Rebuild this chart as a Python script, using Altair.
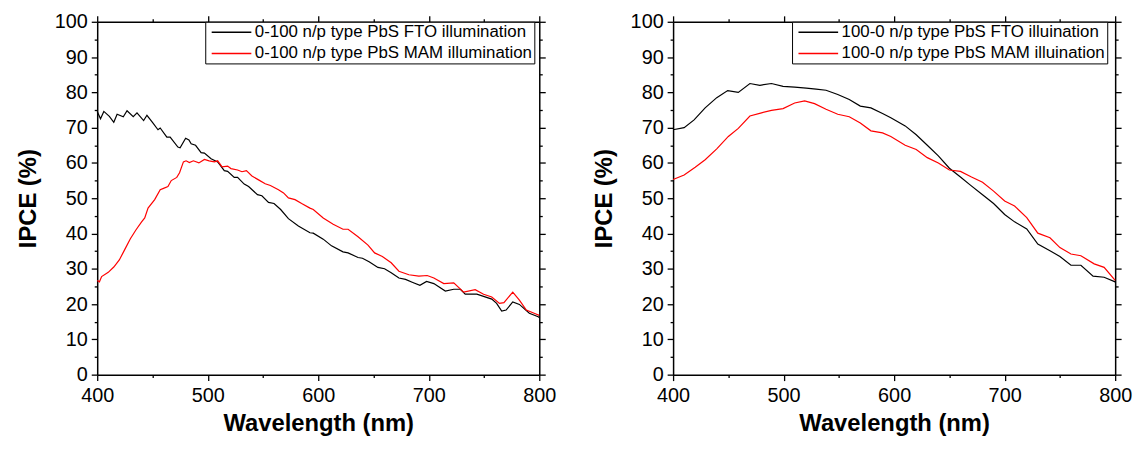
import altair as alt
import pandas as pd

FONT = "Liberation Sans"

# ---------------- data ----------------
# Left panel: 0-100
left_labels = ["0-100 n/p type PbS FTO illumination", "0-100 n/p type PbS MAM illumination"]
left_fto_wl = [400, 403, 406, 411, 415, 418, 423.6, 427, 432.6, 436, 442, 445, 450, 455, 457, 463, 466,
               473, 475, 480, 483, 485, 489, 494, 497, 503, 509, 515, 518, 524, 527, 533, 537, 545, 549,
               555, 560, 566, 573, 582, 592.5, 595.5, 604.5, 612, 622.4, 627, 636, 640, 646, 654, 660,
               666, 673, 679, 685, 692, 698, 704.6, 715, 722.6, 728.6, 733, 743.5, 757, 761.4, 766, 770,
               776, 782, 791, 799, 800]
left_fto_ipce = [74.6, 72.5, 74.6, 73.2, 71.5, 73.8, 73.1, 74.8, 73.1, 74.2, 72.0, 73.5, 71.5, 69.4, 69.9,
                 67.3, 67.3, 64.5, 64.3, 67.0, 66.5, 65.4, 65.0, 62.9, 62.8, 61.2, 60.3, 57.8, 57.6, 55.9,
                 55.9, 54.0, 53.3, 51.0, 50.7, 48.8, 48.5, 46.8, 44.2, 42.1, 40.2, 40.1, 38.4, 36.5, 34.8,
                 34.5, 33.2, 33.0, 32.0, 30.4, 30.0, 28.9, 27.4, 27.0, 26.2, 25.3, 26.4, 25.8, 23.7, 24.2,
                 24.2, 22.8, 22.8, 21.4, 20.2, 18.0, 18.3, 20.6, 19.9, 17.4, 16.4, 16.2]
left_mam_wl = [400, 402, 404, 410, 415, 420, 425, 430, 435, 440, 443, 446, 452, 457, 460, 464, 467, 472,
               474.5, 478, 480.4, 483.4, 487, 492, 497, 501.3, 506, 509, 513, 518, 521, 527, 531, 535,
               540, 546, 552, 556.7, 564, 568.6, 573, 579, 585, 592.5, 595.5, 604.5, 613.5, 622.4, 627,
               636, 645, 651, 658, 666, 673, 682, 691, 698.6, 704.6, 713.6, 722.6, 731.6, 742, 749.6,
               757, 764, 768, 776, 782, 788.3, 797, 800]
left_mam_ipce = [26.7, 26.3, 27.8, 29.0, 30.5, 32.5, 35.5, 38.5, 41.0, 43.2, 44.4, 47.2, 49.6, 52.4, 52.8,
                 53.3, 55.0, 55.9, 57.2, 60.3, 60.6, 60.1, 60.6, 60.0, 61.0, 60.6, 60.3, 60.6, 58.9, 59.1,
                 58.4, 58.0, 57.5, 57.8, 56.3, 55.2, 54.1, 53.6, 52.4, 51.5, 50.1, 49.6, 48.5, 47.2, 46.8,
                 44.4, 42.6, 41.2, 41.2, 39.1, 36.7, 34.5, 33.5, 31.7, 29.3, 28.3, 27.9, 28.1, 27.4, 25.8,
                 26.0, 23.4, 24.1, 22.8, 22.0, 20.2, 20.4, 23.4, 21.1, 18.3, 17.2, 16.8]

# Right panel: 100-0
right_labels = ["100-0 n/p type PbS FTO illuination", "100-0 n/p type PbS MAM illuination"]
right_fto_wl = [400, 410, 419, 429, 439.5, 449.4, 459, 469.5, 478.5, 489, 499.5, 510, 520.5, 529.4,
                538.4, 549, 559.4, 569.4, 579, 589.5, 597, 610, 620, 630, 640, 650, 660, 669, 680, 690,
                700, 709, 720, 730, 741, 750, 760, 769, 780, 790, 800]
right_fto_ipce = [69.4, 70.0, 72.2, 75.6, 78.5, 80.5, 80.0, 82.5, 82.0, 82.5, 81.7, 81.5, 81.2, 80.9,
                  80.6, 79.4, 78.0, 76.1, 75.6, 74.0, 72.8, 70.5, 68.0, 65.0, 62.0, 58.5, 56.0, 53.7,
                  51.0, 48.5, 45.4, 43.3, 41.3, 37.0, 35.1, 33.5, 31.0, 31.0, 27.9, 27.6, 26.3]
right_mam_wl = [400, 410, 420, 429, 439.5, 450, 459, 469.5, 480, 489, 499.5, 510, 519, 528, 538.4, 549,
                559.4, 569.4, 579, 589.5, 597, 610, 620, 630, 640, 650, 660, 670, 680, 690, 700, 709,
                720, 730, 741, 750, 760, 769, 781, 790, 800]
right_mam_ipce = [55.3, 56.6, 58.8, 60.9, 64.0, 67.5, 69.8, 73.3, 74.2, 74.9, 75.4, 77.0, 77.6, 76.8,
                  75.2, 73.8, 73.1, 71.3, 69.1, 68.5, 67.5, 65.0, 63.8, 61.5, 60.0, 58.0, 57.6, 56.0,
                  54.5, 52.0, 49.2, 47.8, 44.5, 40.1, 38.8, 36.0, 34.2, 33.7, 31.4, 30.4, 26.7]

x_tick_values = list(range(400, 801, 50))
y_tick_values = list(range(0, 101, 5))
series_colors = ["#000000", "#ff0000"]


def make_df(wl1, v1, wl2, v2, labels):
    rows = []
    for w, v in zip(wl1, v1):
        rows.append({"wl": w, "ipce": v, "series": labels[0]})
    for w, v in zip(wl2, v2):
        rows.append({"wl": w, "ipce": v, "series": labels[1]})
    return pd.DataFrame(rows)


MAJ_X = "datum.value % 100 === 0"
MAJ_Y = "datum.value % 10 === 0"


def axis(orient, major_test, show_labels, title, label_pad, title_pad):
    kw = dict(
        orient=orient,
        values=x_tick_values if orient in ("top", "bottom") else y_tick_values,
        grid=False,
        domain=True,
        domainColor="black",
        domainWidth=1.5,
        ticks=True,
        tickColor="black",
        tickWidth=1.3,
        tickSize={"condition": {"test": major_test, "value": 6}, "value": 3},
        labels=show_labels,
        labelOverlap=False,
        labelFlush=False,
        labelFont=FONT,
        labelFontSize=20,
        labelColor="black",
        labelPadding=label_pad,
        titleFont=FONT,
        titleFontSize=24,
        titleFontWeight="bold",
        titleColor="black",
        titlePadding=title_pad,
        title=title,
    )
    if show_labels:
        kw["labelExpr"] = f"{major_test} ? datum.label : ''"
    return alt.Axis(**kw)


def panel(df, labels, legend_x):
    xs = alt.Scale(domain=[400, 800], nice=False, zero=False)
    ys = alt.Scale(domain=[0, 100], nice=False, zero=False)
    lines = alt.Chart(df).mark_line(strokeWidth=1.2).encode(
        x=alt.X("wl:Q", scale=xs,
                axis=axis("bottom", MAJ_X, True, "Wavelength (nm)", 5, 6)),
        y=alt.Y("ipce:Q", scale=ys,
                axis=axis("left", MAJ_Y, True, "IPCE (%)", 4, 14)),
        color=alt.Color(
            "series:N",
            scale=alt.Scale(domain=labels, range=series_colors),
            legend=alt.Legend(
                title=None,
                orient="none",
                legendX=legend_x,
                legendY=0,
                strokeColor="black",
                fillColor="white",
                padding=2,
                symbolType="M-5,0H5",
                symbolSize=64,
                symbolStrokeWidth=1.5,
                symbolOffset=16,
                labelOffset=15,
                labelFont=FONT,
                labelFontSize=17,
                labelColor="black",
                labelLimit=0,
                rowPadding=3.5,
            ),
        ),
    )
    frame = alt.Chart(df).mark_point(opacity=0).encode(
        x=alt.X("wl:Q", scale=xs, axis=axis("top", MAJ_X, False, None, 4, 4)),
        y=alt.Y("ipce:Q", scale=ys, axis=axis("right", MAJ_Y, False, None, 4, 4)),
    )
    return alt.layer(lines, frame).resolve_axis(
        x="independent", y="independent"
    ).properties(width=446, height=356)


left_df = make_df(left_fto_wl, left_fto_ipce, left_mam_wl, left_mam_ipce, left_labels)
right_df = make_df(right_fto_wl, right_fto_ipce, right_mam_wl, right_mam_ipce, right_labels)

chart = alt.hconcat(
    panel(left_df, left_labels, 109),
    panel(right_df, right_labels, 120),
    spacing=36,
).resolve_scale(color="independent").configure_view(strokeWidth=0).properties(
    background="white",
    padding={"left": 8, "right": 2, "top": 2, "bottom": 0},
)

chart.save("out.html", embed_options={"renderer": "svg", "actions": False})
